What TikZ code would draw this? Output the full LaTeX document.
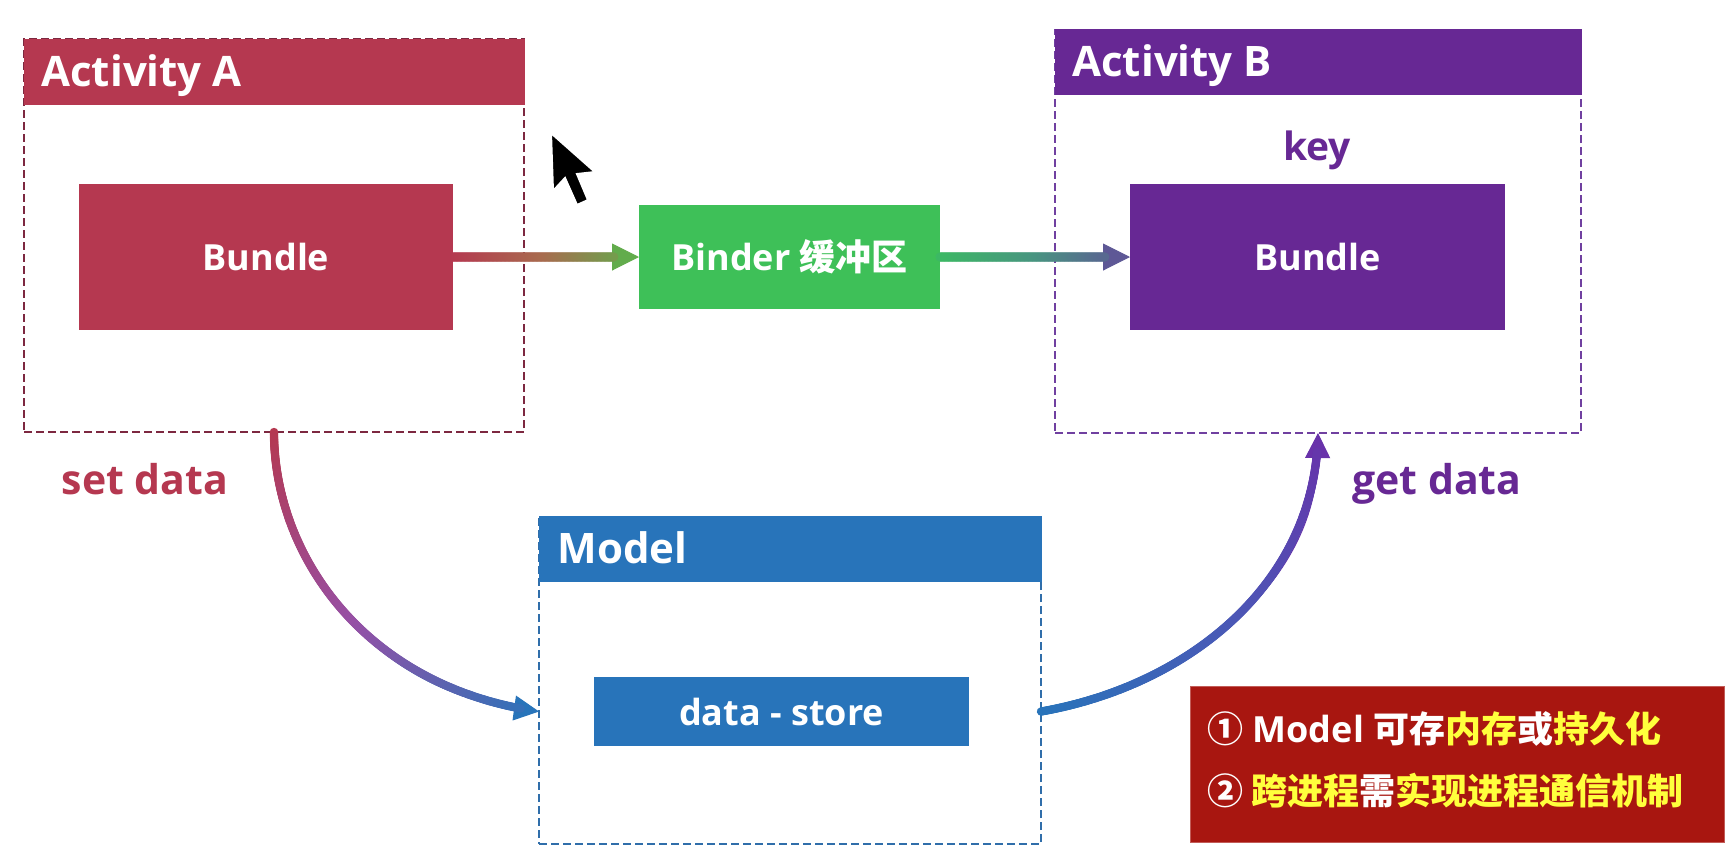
\documentclass[tikz,border=0pt]{standalone}
\usepackage{fontspec}
\setmainfont{Open Sans}
\newfontfamily\cjk{Noto Sans CJK SC}
\usetikzlibrary{arrows.meta,decorations.markings}

\definecolor{actred}{RGB}{181,56,80}
\definecolor{actreddash}{RGB}{125,40,64}
\definecolor{actpurple}{RGB}{103,40,148}
\definecolor{purpledash}{RGB}{112,64,160}
\definecolor{bindgreen}{RGB}{62,192,88}
\definecolor{modelblue}{RGB}{40,116,186}
\definecolor{bluedash}{RGB}{48,110,170}
\definecolor{notered}{RGB}{168,22,16}
\definecolor{noteyellow}{RGB}{255,255,60}
\definecolor{arrAmid}{RGB}{168,108,78}
\definecolor{arrAend}{RGB}{98,172,76}
\definecolor{arrBstart}{RGB}{60,185,100}
\definecolor{arrBmid}{RGB}{72,150,128}
\definecolor{arrBend}{RGB}{94,88,150}
\definecolor{setmid}{RGB}{150,80,165}
\definecolor{getmid}{RGB}{75,88,182}
\definecolor{getend}{RGB}{104,50,170}

\tikzset{
  box/.style={inner sep=0pt, outer sep=0pt},
  dashbox/.style={box, dash pattern=on 4pt off 2pt, line width=1pt},
  headbox/.style={box, minimum height=33pt},
  headtext/.style={inner sep=0pt, text=white, font=\bfseries\fontsize{21}{25}\selectfont},
  innerbox/.style={box, text=white, font=\bfseries\fontsize{18}{22}\selectfont},
  sidetext/.style={inner sep=0pt, font=\bfseries\fontsize{20.5}{25}\selectfont},
  notetext/.style={inner sep=0pt, text=white, font=\bfseries\fontsize{18}{22}\selectfont},
  conn/.style={line width=0.5pt},
  gradline/.style n args={5}{postaction={draw=none, decorate, decoration={markings,
    mark=between positions 0 and 1 step 0.4pt with {%
      \pgfmathsetmacro\gradd{\pgfkeysvalueof{/pgf/decoration/mark info/distance from start}}%
      \pgfmathsetmacro\gradl{\pgfdecoratedpathlength}%
      \ifdim\gradd pt<\dimexpr\gradl pt-#5\relax
        \pgfmathsetmacro\gradf{\gradd/\gradl*100}%
        \ifdim\gradf pt<50pt
          \pgfmathsetmacro\gradp{2*\gradf}%
          \fill[#2!\gradp!#1] (0,0) circle[radius=#4];
        \else
          \pgfmathsetmacro\gradp{2*\gradf-100}%
          \fill[#3!\gradp!#2] (0,0) circle[radius=#4];
        \fi
      \fi}}}},
}

\begin{document}
\begin{tikzpicture}[x=0.5pt,y=-0.5pt]
\useasboundingbox (0,0) rectangle (1736,852);
\fill[white] (0,0) rectangle (1736,852);

% Activity A
\node[dashbox, draw=actreddash, minimum width=250pt, minimum height=196.5pt, anchor=north west] (actA) at (24,39) {};
\node[headbox, fill=actred, minimum width=250.5pt, anchor=north west] (actAhead) at (23.5,39) {};
\node[headtext, anchor=base west] (actAtitle) at (41,86) {Activity A};
\node[innerbox, fill=actred, minimum width=187pt, minimum height=73pt] (bundleA) at (266,257) {Bundle};

% Binder
\node[innerbox, fill=bindgreen, minimum width=150.5pt, minimum height=52pt] (binder) at (789.5,257) {Binder {\cjk 缓冲区}};

% Activity B
\node[dashbox, draw=purpledash, minimum width=263pt, minimum height=201.5pt, anchor=north west] (actB) at (1055,30) {};
\node[headbox, fill=actpurple, minimum width=263.5pt, anchor=north west] (actBhead) at (1054.5,29) {};
\node[headtext, anchor=base west] (actBtitle) at (1072,76) {Activity B};
\node[sidetext, text=actpurple, anchor=base, font=\bfseries\fontsize{19.5}{24}\selectfont] (key) at (1317,160) {key};
\node[innerbox, fill=actpurple, minimum width=187.5pt, minimum height=73pt] (bundleB) at (1317.5,257) {Bundle};

% Model
\node[dashbox, draw=bluedash, minimum width=251pt, minimum height=163.5pt, anchor=north west] (model) at (539,517) {};
\node[headbox, fill=modelblue, minimum width=251.5pt, anchor=north west] (modelhead) at (538.5,516) {};
\node[headtext, anchor=base west] (modeltitle) at (557,563) {Model};
\node[innerbox, fill=modelblue, minimum width=187.5pt, minimum height=34.5pt] (store) at (781.5,711.5) {data - store};

% side labels
\node[sidetext, text=actred, anchor=base] (setdata) at (145,494) {set data};
\node[sidetext, text=actpurple, anchor=base] (getdata) at (1437,494) {get data};

% note
\node[box, fill=notered, draw=notered!70!white, line width=0.5pt, minimum width=267pt, minimum height=78pt, anchor=north west] (note) at (1190,686) {};
\node[notetext, anchor=base west] (note1) at (1207,742) {{\cjk ①} Model {\cjk 可存\textcolor{noteyellow}{内存}或\textcolor{noteyellow}{持久化}}};
\node[notetext, anchor=base west] (note2) at (1207,804) {{\cjk ② \textcolor{noteyellow}{跨进程}需\textcolor{noteyellow}{实现进程通信机制}}};

% connectors
\draw[conn, draw=arrAend, -{Triangle[length=13.5pt,width=13.5pt]},
  gradline={actred}{arrAmid}{arrAend}{2.3pt}{12.5pt}] (bundleA.east) -- (binder.west);
\draw[conn, draw=arrBend, -{Triangle[length=13.5pt,width=13.5pt]},
  gradline={arrBstart}{arrBmid}{arrBend}{2.3pt}{12.5pt}] (binder.east) -- (bundleB.west);
\draw[conn, draw=modelblue, -{Triangle[length=12.5pt,width=12.5pt]},
  gradline={actred}{setmid}{modelblue}{2.1pt}{11.5pt}] (actA.south) .. controls +(0,125) and +(-172,-24) .. (model.west |- store.center);
\draw[conn, draw=getend, -{Triangle[length=12.5pt,width=12.5pt]},
  gradline={modelblue}{getmid}{getend}{2.1pt}{11.5pt}] (model.east |- store.center) .. controls +(148,-26) and +(-2,150) .. (actB.south);

% mouse cursor
\filldraw[fill=black, draw=white, line width=1pt] (551,133) -- ++(2,58) -- ++(12,-13) -- ++(12,27) -- ++(11,-5) -- ++(-11,-26) -- ++(18,-2) -- cycle;
\end{tikzpicture}
\end{document}
